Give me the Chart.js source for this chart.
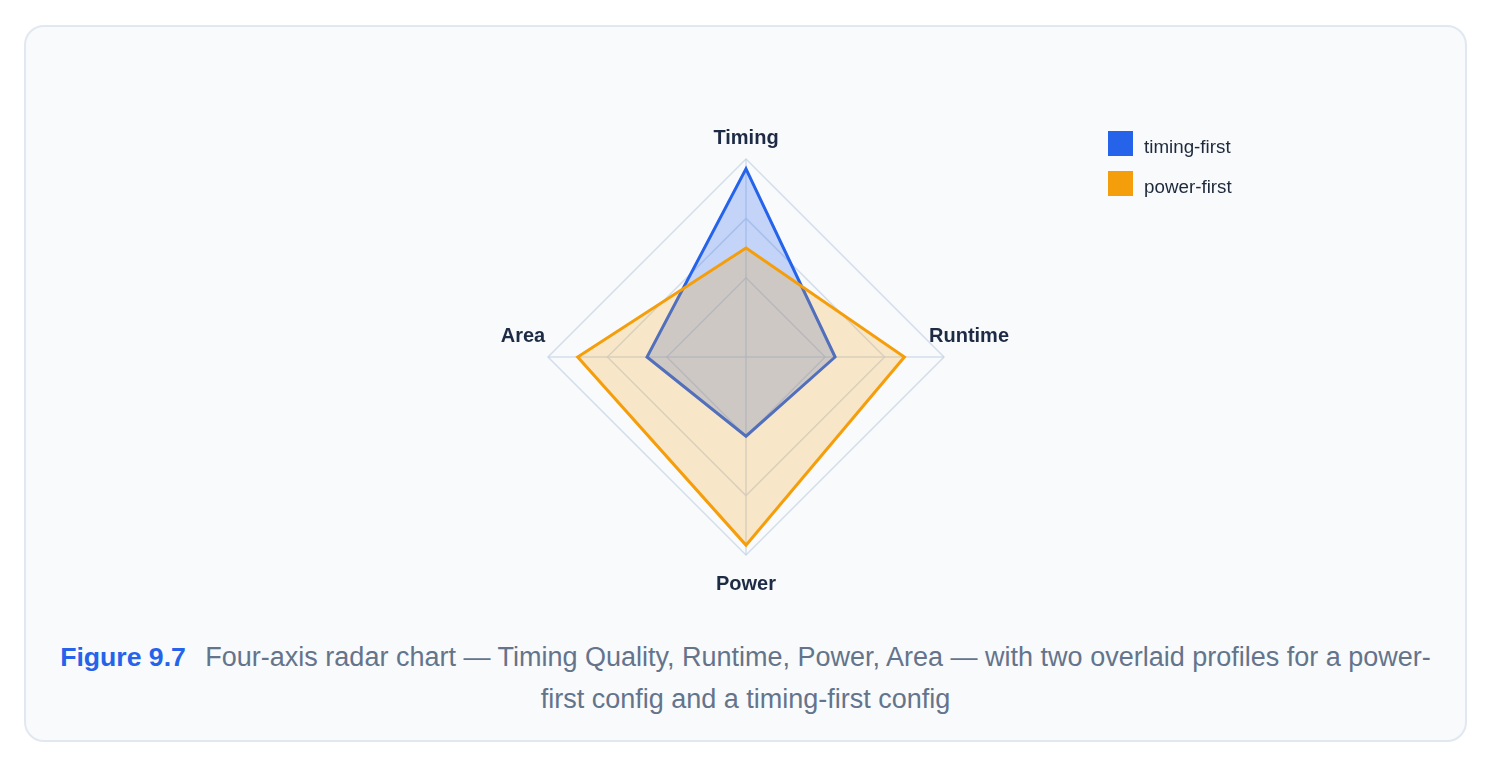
<!DOCTYPE html>
<html>
<head>
<meta charset="utf-8">
<script src="https://cdn.jsdelivr.net/npm/chart.js@4.4.1/dist/chart.umd.min.js"></script>
<style>
  html, body { margin: 0; padding: 0; background: #ffffff; }
  body { width: 1494px; height: 768px; position: relative; overflow: hidden;
         font-family: "Liberation Sans", Arial, Helvetica, sans-serif; }
  #card { position: absolute; left: 24px; top: 25px; width: 1443px; height: 717px;
          box-sizing: border-box; border: 2px solid #e2e8f0; border-radius: 20px; background: #f8fafc; }
  #wrap { position: absolute; left: 24px; top: 25px; width: 1443px; height: 600px; }
  .lg-box { position: absolute; width: 25px; height: 25px; }
  .lg-text { position: absolute; font-size: 18.8px; line-height: 25px; color: #1e293b; white-space: nowrap; }
  #caption { position: absolute; left: 56px; top: 636px; width: 1379px; text-align: center;
             font-size: 27px; line-height: 42px; color: #64748b; }
  #caption strong { color: #2563eb; font-weight: bold; font-size: 26.6px; margin-right: 12px; }
</style>
</head>
<body>
<div id="card"></div>
<div id="wrap"><canvas id="c"></canvas></div>
<div id="legend"></div>
<div id="caption"><strong>Figure 9.7</strong> Four-axis radar chart — Timing Quality, Runtime, Power, Area — with two overlaid profiles for a power-first config and a timing-first config</div>
<script>
// ---- data ----
const axes = ["Timing", "Runtime", "Power", "Area"];
const seriesNames = ["timing-first", "power-first"];
const timingFirst = [95, 45, 40, 50];
const powerFirst = [55, 80, 95, 85];
const ringTicks = [0, 40, 70, 100];
const seriesColors = ["#2563eb", "#f59e0b"];
const seriesFills = ["rgba(37, 99, 235, 0.25)", "rgba(245, 158, 11, 0.21)"];

const axisLabelPlugin = {
  id: 'axisLabels',
  afterDraw(chart) {
    const scale = chart.scales.r;
    const ctx = chart.ctx;
    ctx.save();
    ctx.font = 'bold 20px "Liberation Sans", Arial, sans-serif';
    ctx.fillStyle = '#1e2b45';
    ctx.textAlign = 'center';
    ctx.textBaseline = 'alphabetic';
    chart.data.labels.forEach((label, i) => {
      const p = scale.getPointPosition(i, scale.drawingArea + 25);
      const isSide = Math.abs(Math.cos(p.angle)) > 0.5;
      const y = isSide ? p.y - 14.7 : p.y + 9.5;
      ctx.fillText(label, p.x, y);
    });
    ctx.restore();
  }
};

const chart = new Chart(document.getElementById('c'), {
  type: 'radar',
  data: {
    labels: axes,
    datasets: [
      {
        label: seriesNames[0], data: timingFirst, order: 2,
        borderColor: seriesColors[0], backgroundColor: seriesFills[0],
        borderWidth: 3, fill: true, pointRadius: 0, pointHoverRadius: 0, tension: 0
      },
      {
        label: seriesNames[1], data: powerFirst, order: 1,
        borderColor: seriesColors[1], backgroundColor: seriesFills[1],
        borderWidth: 3, fill: true, pointRadius: 0, pointHoverRadius: 0, tension: 0
      }
    ]
  },
  options: {
    responsive: true,
    maintainAspectRatio: false,
    animation: false,
    layout: { padding: { left: 524, top: 134, right: 523, bottom: 70 } },
    plugins: { legend: { display: false }, tooltip: { enabled: false } },
    scales: {
      r: {
        min: 0, max: 100,
        afterBuildTicks(scale) { scale.ticks = ringTicks.map(v => ({ value: v })); },
        ticks: { display: false },
        pointLabels: { display: false },
        grid: { color: 'rgba(196, 210, 228, 0.7)', lineWidth: 1.5 },
        angleLines: { color: 'rgba(196, 210, 228, 0.7)', lineWidth: 1.5 }
      }
    }
  },
  plugins: [axisLabelPlugin]
});

// HTML legend built from the chart's datasets
const legendEl = document.getElementById('legend');
chart.data.datasets.forEach((ds, i) => {
  const top = 131 + i * 40;
  const box = document.createElement('div');
  box.className = 'lg-box';
  box.style.left = '1108px';
  box.style.top = top + 'px';
  box.style.background = ds.borderColor;
  const txt = document.createElement('div');
  txt.className = 'lg-text';
  txt.style.left = '1144px';
  txt.style.top = (top + 3) + 'px';
  txt.textContent = ds.label;
  legendEl.appendChild(box);
  legendEl.appendChild(txt);
});
</script>
</body>
</html>
